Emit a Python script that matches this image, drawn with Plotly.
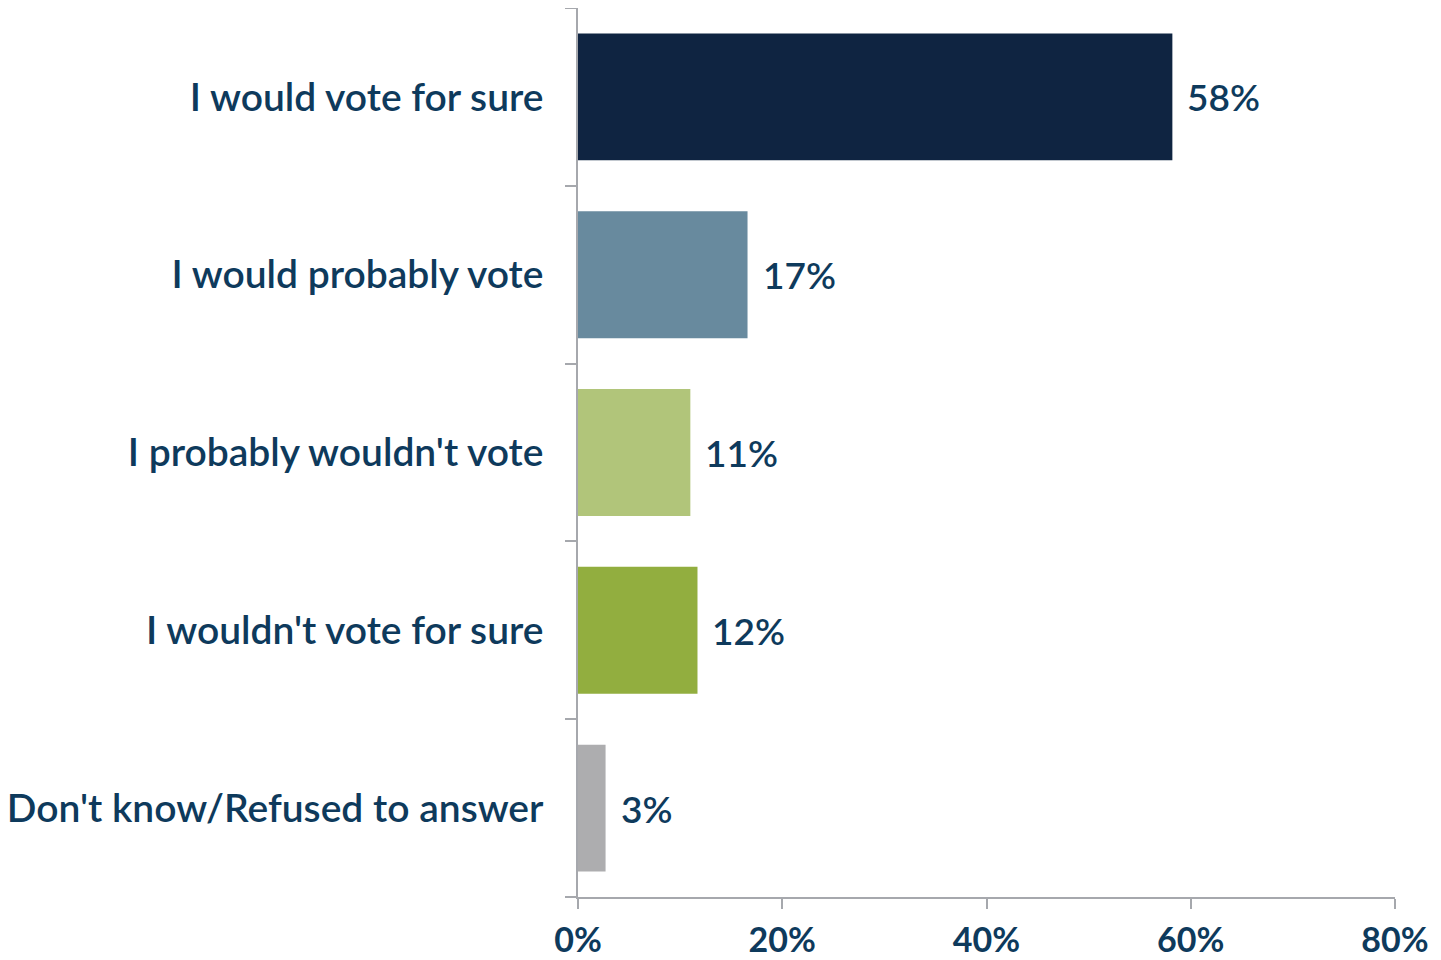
import plotly.graph_objects as go

categories = ["I would vote for sure", "I would probably vote", "I probably wouldn't vote",
              "I wouldn't vote for sure", "Don't know/Refused to answer"]
values = [58.2, 16.6, 11.0, 11.7, 2.7]
labels = ["58%", "17%", "11%", "12%", "3%"]
colors = ["#0f2441", "#688a9e", "#b1c57a", "#92ae3f", "#adadaf"]
x_ticks = [0, 20, 40, 60, 80]
x_tick_labels = ["0%", "20%", "40%", "60%", "80%"]

text_color = "#0e3a5c"
axis_color = "#a6a8ad"
font_family = "Lato, Roboto, sans-serif"

fig = go.Figure()
fig.add_trace(go.Bar(
    x=values, y=categories, orientation="h",
    marker=dict(color=colors, line=dict(width=0)),
    hoverinfo="skip",
))

for cat, v, lab in zip(categories, values, labels):
    fig.add_annotation(x=v, y=cat, text=lab, showarrow=False, xanchor="left",
                       xshift=13, font=dict(size=37, color=text_color, family=font_family, weight=600))

# page body adds an 8px offset; compensate in size/margins
fig.update_layout(
    template="none",
    width=1433, height=952,
    margin=dict(l=570, r=46, t=0, b=63, pad=0),
    paper_bgcolor="white", plot_bgcolor="white",
    bargap=0.286,
    showlegend=False,
    font=dict(family=font_family, color=text_color, size=36),
)
fig.update_xaxes(
    range=[0, 80], tickvals=x_ticks, ticktext=x_tick_labels,
    showgrid=False, zeroline=False, automargin=False,
    showline=True, linecolor=axis_color, linewidth=1.5,
    ticks="outside", ticklen=10, tickcolor=axis_color, tickwidth=1.5,
    tickfont=dict(size=34, color=text_color, family=font_family, weight="bold"),
    ticklabelstandoff=2,
)
fig.update_yaxes(
    categoryorder="array", categoryarray=categories[::-1],
    showgrid=False, zeroline=False, automargin=False,
    showline=True, linecolor=axis_color, linewidth=1.5,
    ticks="outside", ticklen=11, tickcolor=axis_color, tickwidth=1.5,
    tickson="boundaries",
    tickfont=dict(size=39, color=text_color, family=font_family, weight=600),
    ticklabelstandoff=25,
)

fig.write_html("out.html")
